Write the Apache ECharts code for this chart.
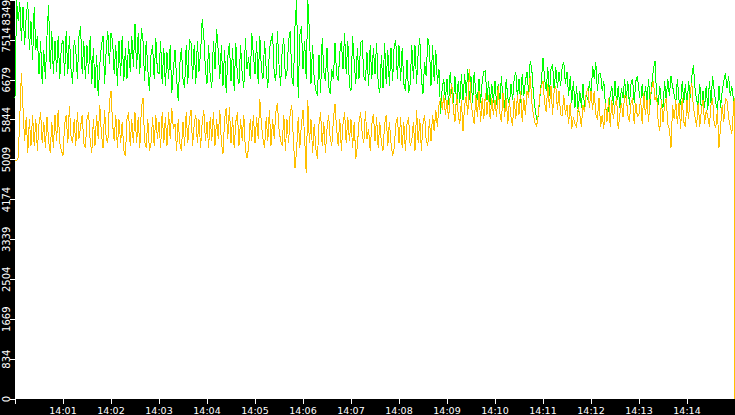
<!DOCTYPE html>
<html>
<head>
<meta charset="utf-8">
<script src="https://cdn.jsdelivr.net/npm/echarts@6/dist/echarts.min.js"></script>
<style>
html,body{margin:0;padding:0;background:#000;}
#chart{width:735px;height:415px;}
#chart svg path{shape-rendering:crispEdges;}
</style>
</head>
<body>
<div id="chart"></div>
<script>
// sample spacing in seconds after 14:00:00; the last two samples share the final second
const stepSec = 2;
const endSec = 899;
const xTickLabels = ['14:01','14:02','14:03','14:04','14:05','14:06','14:07','14:08','14:09','14:10','14:11','14:12','14:13','14:14'];
const yTickLabels = ['0','834','1669','2504','3339','4174','5009','5844','6679','7514','8349'];

const greenValues = [
6300,8340,7900,8300,7500,8200,7400,8000,8300,7300,
7900,7100,8200,7300,7600,6800,7500,6600,7300,6700,
7600,8250,6900,7700,6800,7500,6850,7600,6700,7400,
7500,6750,7700,6800,7600,6900,6600,7500,7300,6700,
7600,7800,6800,7500,6700,7400,6800,7600,6600,7350,
6500,7200,6350,7000,7400,7600,6600,7300,7700,7000,
7650,7500,6800,7400,6550,7500,6750,7600,6650,7350,
6700,7500,6850,7600,6950,7850,6900,7650,6800,7760,
7500,6650,7500,6900,6450,7200,7400,6700,7550,6850,
6800,7500,6600,7350,6550,7250,6700,7400,6400,6900,
7300,6700,6240,7000,7350,6700,6500,7400,6600,7530,
7450,6700,7400,6600,7500,6850,7250,7950,7600,6900,
6600,7400,6750,6500,7500,6900,7750,7300,6700,7400,
6550,7300,6400,7150,7450,6650,7350,6450,7450,6750,
6600,7400,6800,6500,7550,6900,7150,6700,7650,7200,
6800,7500,6600,7600,6900,6700,7500,6900,6500,7300,
7500,7650,6800,6650,7700,7000,6550,7300,7550,6700,
6850,7500,7700,6750,6550,7800,8340,6300,7600,7800,
6900,7500,6700,8340,7700,6600,7400,6700,6450,6350,
7200,6400,7550,6850,6650,7350,6550,6390,6900,6700,
7450,6800,6650,7250,7500,6900,7660,6800,7500,6550,
6450,7600,7050,6600,7350,6700,7450,7500,6750,6650,
7250,6550,7400,6700,7350,6800,7450,6600,6400,7200,
6500,7450,6600,7300,6550,7350,6650,7400,7500,6700,
7400,6650,7350,6600,6450,7100,6400,6600,7400,6700,
7400,6600,7250,7550,6700,6390,7050,6750,7550,7350,
6550,7400,6650,7300,6600,6900,5970,6500,6700,6250,
6700,6150,6850,6400,6200,6750,6150,6650,6200,6800,
6250,6800,6350,6910,6250,6750,6200,6850,6400,6250,
6700,6200,6650,6850,6870,6250,6650,6150,6600,6200,
6650,6150,6600,6200,6750,6250,6100,6700,6300,6150,
6600,6250,6700,6850,6300,6700,6200,6800,6350,6650,
6850,6400,7075,6900,6400,6100,5850,5900,6300,6650,
7140,6700,6450,6950,6350,6900,7000,6450,6950,6500,
6850,6550,6950,7050,6600,6850,6350,6750,6200,6650,
6100,6550,6000,6450,6100,6600,6050,6400,6250,6650,
6300,6970,6700,7050,6450,6800,6820,6450,6650,6150,
5920,6050,6350,6550,6150,6650,6150,6550,6100,6500,
6300,6700,6250,6650,6150,6600,6700,6200,6650,6760,
6450,6200,6600,6100,6550,6250,6700,6150,6600,6900,
7075,6350,6150,6550,6200,6100,6650,6250,6700,6350,
6750,6550,6350,6200,6700,6250,6150,6650,6200,6600,
6100,6650,6300,6750,6990,6500,6250,6150,6600,6000,
6450,6100,6550,6050,6650,6200,6760,6450,6200,6050,
6550,6100,6450,6650,6820,6500,6750,6350,6550,6150,
3280
];

const yellowValues = [
5000,4990,5050,5900,6825,6100,5400,5900,5150,5850,
5300,5950,5300,5850,5200,5750,6000,5350,5800,5250,
5900,5400,5150,5800,5250,5950,5400,6050,5350,5200,
5090,5750,5950,5350,6135,5500,5350,5850,5300,6000,
5450,5700,5950,5350,5250,5850,6000,5400,5150,5850,
5300,5950,5450,6150,5550,5250,6050,5450,5350,6200,
6450,5750,5400,5950,5250,5850,5350,5800,5200,5090,
5850,6000,5300,5850,5350,6000,5350,5900,5250,6100,
6300,5400,5250,5850,5200,5350,5900,5300,5950,5450,
5800,5250,6000,5350,5900,5300,6000,5450,6090,5650,
5750,5200,5850,5350,5200,5800,5300,6000,5350,5850,
6050,5300,5750,5950,5350,5850,5250,5800,6050,5400,
5800,5250,5900,5400,6000,5300,5850,5450,6050,5350,
5130,5850,6090,5450,6100,5350,5900,5250,5800,6000,
5300,5850,5400,5950,5200,5050,5250,5850,5400,5950,
5350,5900,5450,6280,5750,5450,5250,5900,5400,6050,
5300,5850,5450,6000,6200,5650,5400,5300,5950,5200,
5850,5350,6000,6150,5400,4840,5200,5900,5250,5750,
6050,5500,4720,6260,5350,5850,5150,5750,5250,5030,
5750,6000,5300,5800,5150,5650,5950,5450,5300,5850,
6180,5650,5300,5850,5200,5750,6000,5350,5900,5400,
5850,5250,5800,5030,5300,5800,6000,5550,5350,6030,
5450,5650,5200,5750,5970,5400,5900,5250,5800,5350,
5200,5750,5950,5300,5800,5350,5090,5250,5750,5900,
5350,5900,5250,5800,5200,5750,5900,5300,5400,5800,
5200,6050,5350,5850,5200,5750,5950,5400,5300,5850,
5400,5950,5600,6050,5700,6150,6300,6050,6350,5950,
6250,5850,6350,6600,6050,5800,6400,5950,5750,6250,
5610,6150,6340,5950,6910,6200,5950,5750,6350,5900,
6450,5800,6300,5850,6400,5950,6350,5850,6300,5950,
6250,5900,6550,6000,5800,6400,5900,6300,5750,6250,
5900,5720,6300,5850,6350,5950,6450,5800,6300,5950,
6450,6300,6760,6200,5950,5780,5700,5950,6350,6550,
6660,6200,6000,6600,6100,6550,5950,6450,6550,6050,
6450,5950,5930,6350,5950,6150,5750,6200,5650,5900,
5750,5680,6100,5950,5700,6150,6000,6400,6500,6100,
6450,6050,6450,5950,5850,6300,5700,5950,5650,6200,
5800,6300,5700,6250,5850,6150,6300,5650,5950,6200,
5900,6350,6340,5950,5800,6200,6300,5750,6200,5900,
5970,6300,5750,6400,5950,6250,5800,6350,6500,6660,
6250,6350,5800,5610,6250,5800,6150,6300,5750,5650,
5260,6150,5850,6250,5750,6200,5650,6300,5800,5700,
6250,5850,6450,6620,6100,5900,5700,6200,5700,6050,
6250,5750,6050,5900,5700,6150,6300,5750,5680,6050,
5260,5700,6150,5800,6300,6240,5900,5700,5550,6300,
0
];

function toPairs(vals){
  return vals.map(function(v,i){
    const t = (i >= vals.length - 2) ? endSec : i * stepSec;
    return [t, v];
  });
}

const chart = echarts.init(document.getElementById('chart'), null, {renderer:'svg'});
chart.setOption({
  animation: false,
  backgroundColor: '#000000',
  grid: {
    left: 15, right: 0, top: 0, bottom: 16,
    show: true, backgroundColor: '#ffffff', borderWidth: 0,
    containLabel: false, outerBoundsMode: 'none'
  },
  xAxis: {
    type: 'value', min: 0, max: 900, interval: 60,
    axisLine: {show: false},
    axisTick: {show: true, length: 5, lineStyle: {color: '#ffffff', width: 1}},
    splitLine: {show: false},
    axisLabel: {
      color: '#ffffff', fontSize: 9.5, fontFamily: 'DejaVu Sans', margin: 6,
      formatter: function(v, idx){ return xTickLabels[idx - 1] || ''; }
    }
  },
  yAxis: {
    type: 'value', min: 0, max: 8349, interval: 834.9,
    axisLine: {show: false},
    axisTick: {show: true, length: 5, lineStyle: {color: '#ffffff', width: 1}},
    splitLine: {show: false},
    axisLabel: {
      color: '#ffffff', fontSize: 10, fontFamily: 'DejaVu Sans', margin: 4, rotate: 90,
      alignMaxLabel: 'right',
      formatter: function(v, idx){ return yTickLabels[idx] || ''; }
    }
  },
  series: [
    {
      type: 'line', data: toPairs(greenValues), clip: false,
      showSymbol: false, symbol: 'none',
      lineStyle: {color: '#00ff00', width: 1}, itemStyle: {color: '#00ff00'}
    },
    {
      type: 'line', data: toPairs(yellowValues), clip: false,
      showSymbol: false, symbol: 'none',
      lineStyle: {color: '#ffc000', width: 1}, itemStyle: {color: '#ffc000'}
    }
  ]
});
</script>
</body>
</html>
